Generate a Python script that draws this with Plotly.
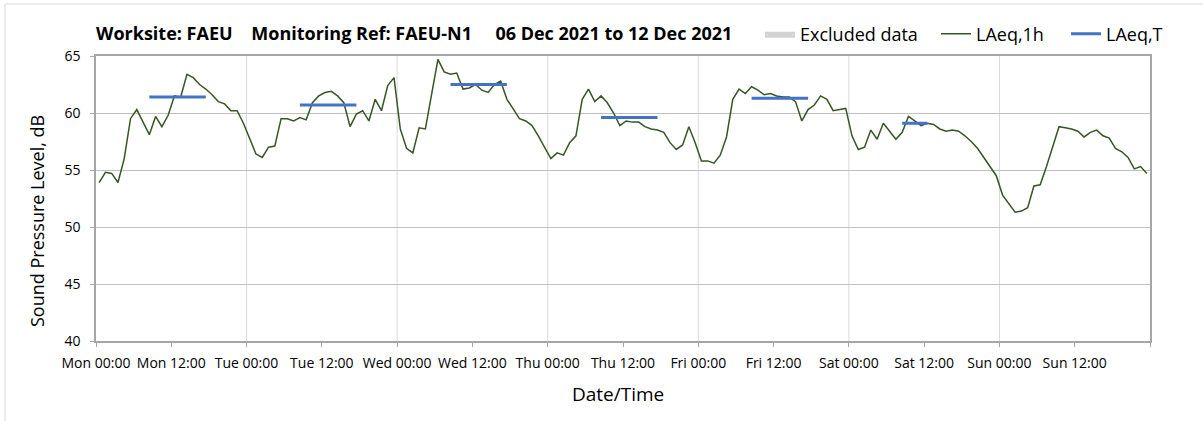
import pandas as pd
import plotly.graph_objects as go

# ---------------- data ----------------
laeq_1h = [
    53.9, 54.8, 54.7, 53.9, 56.0, 59.5, 60.3, 59.2, 58.1, 59.7, 58.8, 59.8,
    61.5, 61.4, 63.4, 63.1, 62.5, 62.1, 61.6, 61.0, 60.8, 60.2, 60.2, 59.1,
    57.8, 56.4, 56.1, 57.0, 57.1, 59.5, 59.5, 59.3, 59.6, 59.4, 60.9, 61.5,
    61.8, 61.9, 61.5, 60.9, 58.8, 59.9, 60.2, 59.3, 61.2, 60.2, 62.4, 63.1,
    58.6, 56.9, 56.5, 58.7, 58.6, 61.7, 64.7, 63.6, 63.4, 63.5, 62.1, 62.2,
    62.5, 62.0, 61.8, 62.5, 62.8, 61.2, 60.4, 59.5, 59.3, 58.9, 58.0, 57.0,
    56.0, 56.5, 56.3, 57.4, 58.0, 61.2, 62.1, 61.0, 61.5, 60.9, 60.0, 58.9,
    59.3, 59.2, 59.2, 58.8, 58.6, 58.5, 58.3, 57.4, 56.8, 57.2, 58.8, 57.4,
    55.8, 55.8, 55.6, 56.3, 57.9, 61.2, 62.1, 61.7, 62.3, 62.0, 61.6, 61.7,
    61.5, 61.4, 61.4, 61.0, 59.3, 60.3, 60.7, 61.5, 61.2, 60.2, 60.3, 60.4,
    58.0, 56.8, 57.0, 58.5, 57.7, 59.1, 58.4, 57.7, 58.3, 59.7, 59.3, 58.9,
    59.1, 59.0, 58.6, 58.4, 58.5, 58.4, 58.0, 57.5, 56.9, 56.1, 55.4, 54.5,
    52.8, 52.1, 51.3, 51.4, 51.7, 53.6, 53.7, 55.3, 57.1, 58.8, 58.7, 58.6,
    58.4, 57.9, 58.3, 58.5, 58.0, 57.8, 56.9, 56.6, 56.1, 55.1, 55.3, 54.7,
]
first_time = "2021-12-06 00:30"

laeq_t_days = ["2021-12-06", "2021-12-07", "2021-12-08",
               "2021-12-09", "2021-12-10", "2021-12-11"]
laeq_t_start = ["08:30", "08:30", "08:30", "08:30", "08:30", "08:30"]
laeq_t_end = ["17:30", "17:30", "17:30", "17:30", "17:30", "12:30"]
laeq_t_values = [61.4, 60.7, 62.5, 59.6, 61.3, 59.1]

tick_labels = ["Mon 00:00", "Mon 12:00", "Tue 00:00", "Tue 12:00",
               "Wed 00:00", "Wed 12:00", "Thu 00:00", "Thu 12:00",
               "Fri 00:00", "Fri 12:00", "Sat 00:00", "Sat 12:00",
               "Sun 00:00", "Sun 12:00", ""]
range_start = "2021-12-06 00:00"
range_end = "2021-12-13 00:00"

# ---------------- build ----------------
x_hourly = pd.date_range(first_time, periods=len(laeq_1h), freq="h")
tickvals = pd.date_range(range_start, periods=len(tick_labels), freq="12h")
day_lines = pd.date_range(range_start, range_end, freq="24h")

seg_x, seg_y = [], []
for d, s, e, v in zip(laeq_t_days, laeq_t_start, laeq_t_end, laeq_t_values):
    seg_x += [pd.Timestamp(f"{d} {s}"), pd.Timestamp(f"{d} {e}"), None]
    seg_y += [v, v, None]

FONT = "Open Sans, DejaVu Sans, sans-serif"
GREEN = "#375623"
BLUE = "#4472C4"

# plot-area geometry (px) used for paper-coordinate placement
L, R, T, B = 96, 1150, 56, 341
PW, PH = R - L, B - T


def px_x(x):
    return (x - L) / PW


def px_y(y):
    return (B - y) / PH


fig = go.Figure()
fig.add_trace(go.Scatter(
    x=[None], y=[None], name="Excluded data", mode="lines",
    fill="toself", fillcolor="#d3d3d3", line=dict(width=0, color="#d3d3d3"),
    legend="legend",
))
fig.add_trace(go.Scatter(
    x=x_hourly, y=laeq_1h, name="LAeq,1h", mode="lines",
    line=dict(color=GREEN, width=1.5), legend="legend2",
))
fig.add_trace(go.Scatter(
    x=seg_x, y=seg_y, name="LAeq,T", mode="lines",
    line=dict(color=BLUE, width=3), connectgaps=False, legend="legend3",
))

shapes = []
for d in day_lines[1:-1]:
    shapes.append(dict(type="line", xref="x", yref="paper", x0=d, x1=d,
                       y0=0, y1=1, layer="below",
                       line=dict(color="#d9d9d9", width=1)))
# outer chart frame
shapes.append(dict(type="rect", xref="paper", yref="paper",
                   x0=px_x(5), x1=px_x(1260), y0=px_y(500), y1=px_y(4),
                   line=dict(color="#d9d9d9", width=1),
                   fillcolor="rgba(0,0,0,0)", layer="below"))

nb = "\u00a0"
title = ("Worksite: FAEU" + nb * 4 + "Monitoring Ref: FAEU-N1" + nb * 5 +
         "06 Dec 2021 to 12 Dec 2021")

leg_common = dict(orientation="h", xanchor="left", yanchor="middle",
                  y=px_y(34), font=dict(size=18, family=FONT, color="#000000"),
                  bgcolor="rgba(0,0,0,0)", borderwidth=0)

annotations = [
    dict(text="Sound Pressure Level, dB", xref="paper", yref="paper",
         x=px_x(37), y=px_y(221), textangle=-90, showarrow=False,
         xanchor="center", yanchor="middle",
         font=dict(size=18, family=FONT, color="#000000")),
    dict(text="Date/Time", xref="paper", yref="paper",
         x=px_x(618), y=px_y(394), showarrow=False,
         xanchor="center", yanchor="middle",
         font=dict(size=19, family=FONT, color="#000000")),
]

fig.update_layout(
    width=1203, height=421,
    margin=dict(l=L, r=1203 - R, t=T, b=421 - B, autoexpand=False),
    paper_bgcolor="white", plot_bgcolor="white",
    font=dict(family=FONT, color="#000000"),
    title=dict(text="<b>" + title + "</b>", x=L / 1203, xanchor="left",
               y=1 - 34 / 421, yanchor="middle",
               font=dict(size=18, family=FONT, color="#000000")),
    showlegend=True,
    legend=dict(x=px_x(760), **leg_common),
    legend2=dict(x=px_x(936), **leg_common),
    legend3=dict(x=px_x(1066), **leg_common),
    shapes=shapes,
    annotations=annotations,
    xaxis=dict(
        type="date", range=[range_start, range_end],
        tickmode="array", tickvals=tickvals, ticktext=tick_labels,
        ticks="outside", ticklen=4, tickcolor="#a6a6a6",
        ticklabelstandoff=4,
        showgrid=False, showline=True, linecolor="#a6a6a6", linewidth=1.5,
        mirror=True, tickfont=dict(size=14, family=FONT),
    ),
    yaxis=dict(
        range=[40, 65], dtick=5, tick0=40,
        ticks="outside", ticklen=4, tickcolor="#a6a6a6",
        ticklabelstandoff=7,
        showgrid=True, gridcolor="#c0c0c0", gridwidth=1,
        showline=True, linecolor="#a6a6a6", linewidth=1.5, mirror=True,
        zeroline=False, tickfont=dict(size=14, family=FONT),
    ),
)

fig.write_html("out.html", config={"displayModeBar": False},
               post_script="document.body.style.margin='0px';")
